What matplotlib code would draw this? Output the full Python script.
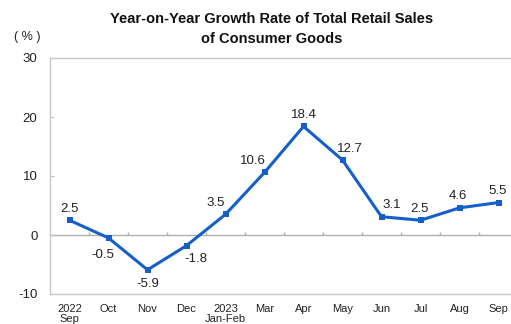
import numpy as np
import matplotlib.pyplot as plt

months = ['2022\nSep', 'Oct', 'Nov', 'Dec', '2023\nJan-Feb', 'Mar', 'Apr',
          'May', 'Jun', 'Jul', 'Aug', 'Sep']
growth = [2.5, -0.5, -5.9, -1.8, 3.5, 10.6, 18.4, 12.7, 3.1, 2.5, 4.6, 5.5]
# label offsets in points (dx, dy)
label_offsets = [(0, 4), (-4, -8), (0, -6), (7, -5), (-7, 4), (-8, 4),
                 (0, 4), (5, 4), (7, 4), (-1, 4), (-1, 4), (-1, 4)]

plt.rcParams['font.family'] = ['Liberation Sans', 'DejaVu Sans']
plt.rcParams['axes.unicode_minus'] = False

fig = plt.figure(figsize=(5.11, 3.24), dpi=100)
ax = fig.add_axes([50 / 511, 30 / 324, 468 / 511, 236 / 324])

x = np.arange(len(months))
ax.plot(x, growth, color='#1560c8', lw=2.2, marker='s', ms=4.5,
        markeredgewidth=0, zorder=3)

for xi, v, (dx, dy) in zip(x, growth, label_offsets):
    ax.annotate(f'{v:.1f}', (xi, v), xytext=(dx, dy), textcoords='offset points',
                ha='center', va='bottom' if dy > 0 else 'top', fontsize=9.5,
                color='#222222')

# zero line with category separators
ax.axhline(0, color='#b0b0b0', lw=1, zorder=1)
ax.vlines(x[:-1] + 0.5, 0, 0.5, color='#b0b0b0', lw=1, zorder=1)

ax.set_xlim(-0.5, len(months) - 0.5)
ax.set_ylim(-10, 30)
ax.set_yticks([-10, 0, 10, 20, 30])
ax.set_xticks(x)
ax.set_xticklabels(months, fontsize=8, color='#222222', linespacing=1.0)
ax.tick_params(axis='x', length=0, pad=7)
ax.tick_params(axis='y', direction='in', length=3, color='#c0c0c0',
               labelsize=9.5, labelcolor='#222222', pad=9)

for side in ['left', 'top', 'bottom']:
    ax.spines[side].set_color('#c8c8c8')
    ax.spines[side].set_linewidth(1)
ax.spines['right'].set_visible(False)

fig.text(0.532, 0.962, 'Year-on-Year Growth Rate of Total Retail Sales\nof Consumer Goods',
         ha='center', va='top', fontsize=10.5, fontweight='bold',
         color='#111111', linespacing=1.5)
fig.text(0.053, 0.887, '( % )', ha='center', va='center', fontsize=9,
         color='#222222')

fig.savefig('out.png', dpi=100)
